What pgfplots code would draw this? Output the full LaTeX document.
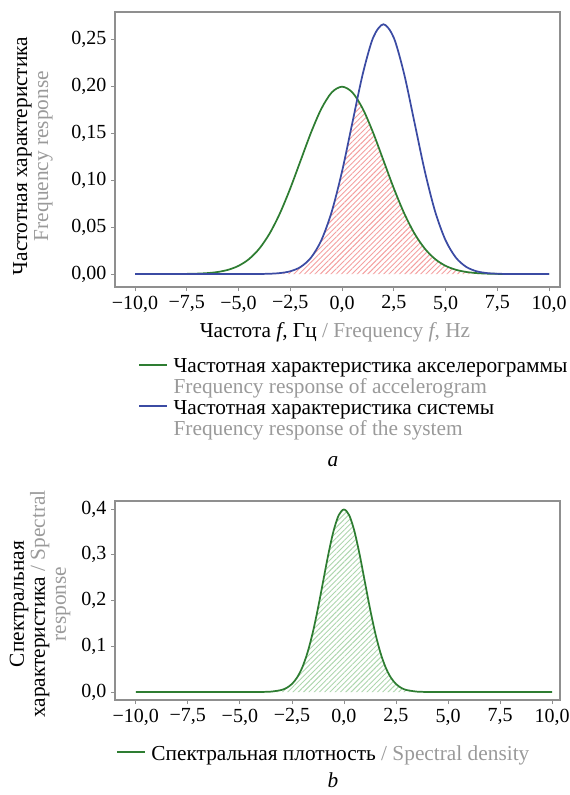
\documentclass[border=0pt]{standalone}
\usepackage{fontspec}
\setmainfont{Liberation Serif}
\usepackage{pgfplots}
\usepackage{pgfplotstable}
\pgfplotsset{compat=1.18}
\usetikzlibrary{patterns.meta}

\definecolor{accgreen}{HTML}{2E7D32}
\definecolor{sysblue}{HTML}{3B4BA3}
\definecolor{hatchred}{HTML}{F4A0A0}
\definecolor{hatchgreen}{HTML}{AED6AE}
\definecolor{engray}{HTML}{9A9A9A}
\definecolor{framegray}{HTML}{8F8F8F}
\newcommand\fs{\fontsize{15}{15.75}\selectfont}
\newcommand\fl{\fontsize{16}{15.75}\selectfont}
\newcommand\ls{\rule[-4.2pt]{0pt}{15.75pt}}

% frequency response of accelerogram
\pgfplotstableread{
x y
-10 0
-9.5 0
-9 0.00001
-8.5 0.00002
-8 0.00007
-7.5 0.00018
-7 0.00044
-6.5 0.00101
-6 0.00222
-5.5 0.00455
-5 0.00876
-4.5 0.01587
-4 0.02700
-3.5 0.04314
-3 0.06476
-2.5 0.09132
-2 0.12099
-1.5 0.15057
-1 0.17603
-0.5 0.19333
0 0.19947
0.5 0.19333
1 0.17603
1.5 0.15057
2 0.12099
2.5 0.09132
3 0.06476
3.5 0.04314
4 0.02700
4.5 0.01587
5 0.00876
5.5 0.00455
6 0.00222
6.5 0.00101
7 0.00044
7.5 0.00018
8 0.00007
8.5 0.00002
9 0.00001
9.5 0
10 0
}\accel

% frequency response of the system
\pgfplotstableread{
x y
-10 0
-9 0
-8 0
-7 0
-6 0
-5 0
-4.5 0.00002
-4 0.00009
-3.5 0.00032
-3 0.00103
-2.5 0.00295
-2 0.00760
-1.5 0.01748
-1 0.03599
-0.5 0.06632
0 0.10934
0.5 0.16131
1 0.21297
1.5 0.25159
2 0.26596
2.5 0.25159
3 0.21297
3.5 0.16131
4 0.10934
4.5 0.06632
5 0.03599
5.5 0.01748
6 0.00760
6.5 0.00295
7 0.00103
7.5 0.00032
8 0.00009
8.5 0.00002
9 0
10 0
}\system

% overlap of the two responses (hatched)
\pgfplotstableread{
x y
-4 0.00009
-3.5 0.00032
-3 0.00103
-2.5 0.00295
-2 0.00760
-1.5 0.01748
-1 0.03599
-0.5 0.06632
0 0.10934
0.25 0.13467
0.5 0.16131
0.6 0.17205
0.73 0.18640
0.85 0.18225
1 0.17603
1.25 0.16389
1.5 0.15057
2 0.12099
2.5 0.09132
3 0.06476
3.5 0.04314
4 0.02700
4.5 0.01587
5 0.00876
5.5 0.00455
6 0.00222
6.5 0.00101
7 0.00044
7.5 0.00018
8 0.00007
}\overlap

% spectral density
\pgfplotstableread{
x y
-10 0
-9 0
-8 0
-7 0
-6 0
-5 0
-4.5 0.00002
-4 0.00013
-3.5 0.00087
-3 0.00443
-2.75 0.00909
-2.5 0.01753
-2.25 0.03174
-2 0.05399
-1.75 0.08628
-1.5 0.12952
-1.25 0.18265
-1 0.24197
-0.75 0.30114
-0.5 0.35207
-0.25 0.38667
0 0.39894
0.25 0.38667
0.5 0.35207
0.75 0.30114
1 0.24197
1.25 0.18265
1.5 0.12952
1.75 0.08628
2 0.05399
2.25 0.03174
2.5 0.01753
2.75 0.00909
3 0.00443
3.5 0.00087
4 0.00013
4.5 0.00002
5 0
6 0
7 0
8 0
9 0
10 0
}\spectral

\pgfplotsset{
  panel/.style={
    scale only axis,
    width=333.75pt,
    axis line style={framegray, line width=0.8pt},
    tick align=outside, tick pos=left,
    major tick length=3pt,
    tick style={framegray, line width=0.6pt},
    tick label style={font=\fs},
    xtick={-10,-7.5,...,10},
    xticklabels={{−10,0},{−7,5},{−5,0},{−2,5},{0,0},{2,5},{5,0},{7,5},{10,0}},
    legend cell align=left,
    legend style={draw=none, fill=none, inner sep=0pt, font=\fl,
      anchor=north west, column sep=4pt, row sep=2.6pt,
      nodes={inner sep=0pt}},
    legend image code/.code={\draw[##1, line width=1.5pt] (0pt,0.1em) -- (21pt,0.1em);},
  },
}

\begin{document}
\begin{tikzpicture}
\path[use as bounding box] (0,0) rectangle (427.5pt,-596.25pt);

\begin{axis}[panel,
  at={(86.25pt,-215.25pt)}, anchor=south west,
  height=206.25pt,
  xmin=-10.97, xmax=10.53,
  ymin=-0.0138, ymax=0.279,
  ytick={0,0.05,0.1,0.15,0.2,0.25},
  yticklabels={{0,00},{0,05},{0,10},{0,15},{0,20},{0,25}},
  legend style={at={(0.0517,-0.2545)}},
]
\addplot[draw=none, pattern={Lines[angle=45, distance=2.8pt, line width=0.7pt]},
  pattern color=hatchred, forget plot]
  table[x=x,y=y]{\overlap} \closedcycle;
\addplot[accgreen, line width=1.3pt, smooth] table[x=x,y=y]{\accel};
\addlegendentry{\ls Частотная характеристика акселерограммы}
\addlegendimage{empty legend}
\addlegendentry{\ls\color{engray}Frequency response of accelerogram}
\addplot[sysblue, line width=1.3pt, smooth] table[x=x,y=y]{\system};
\addlegendentry{\ls Частотная характеристика системы}
\addlegendimage{empty legend}
\addlegendentry{\ls\color{engray}Frequency response of the system}
\end{axis}

\begin{axis}[panel,
  at={(86.25pt,-525pt)}, anchor=south west,
  height=149.25pt,
  xmin=-11.0, xmax=10.38,
  ymin=-0.0175, ymax=0.4175,
  ytick={0,0.1,0.2,0.3,0.4},
  yticklabels={{0,0},{0,1},{0,2},{0,3},{0,4}},
  legend style={at={(0.002,-0.225)}},
]
\addplot[draw=none, pattern={Lines[angle=45, distance=2.8pt, line width=0.7pt]},
  pattern color=hatchgreen, forget plot]
  table[x=x,y=y]{\spectral} \closedcycle;
\addplot[accgreen, line width=1.3pt, smooth] table[x=x,y=y]{\spectral};
\addlegendentry{\ls Спектральная плотность {\color{engray}/ Spectral density}}
\end{axis}

\node[rotate=90, align=center, font=\fl] at (24.75pt,-117pt)
  {Частотная характеристика\\{\color{engray}Frequency response}};
\node[font=\fl] at (251.25pt,-249pt)
  {Частота \textit{f}, Гц {\color{engray}/ Frequency \textit{f}, Hz}};
\node[font=\fl\itshape] at (249.75pt,-346.5pt) {a};

\node[rotate=90, align=center, font=\fl] at (30pt,-453pt)
  {Спектральная\\характеристика {\color{engray}/ Spectral}\\{\color{engray}response}};
\node[font=\fl\itshape] at (249.75pt,-585pt) {b};
\end{tikzpicture}
\end{document}
